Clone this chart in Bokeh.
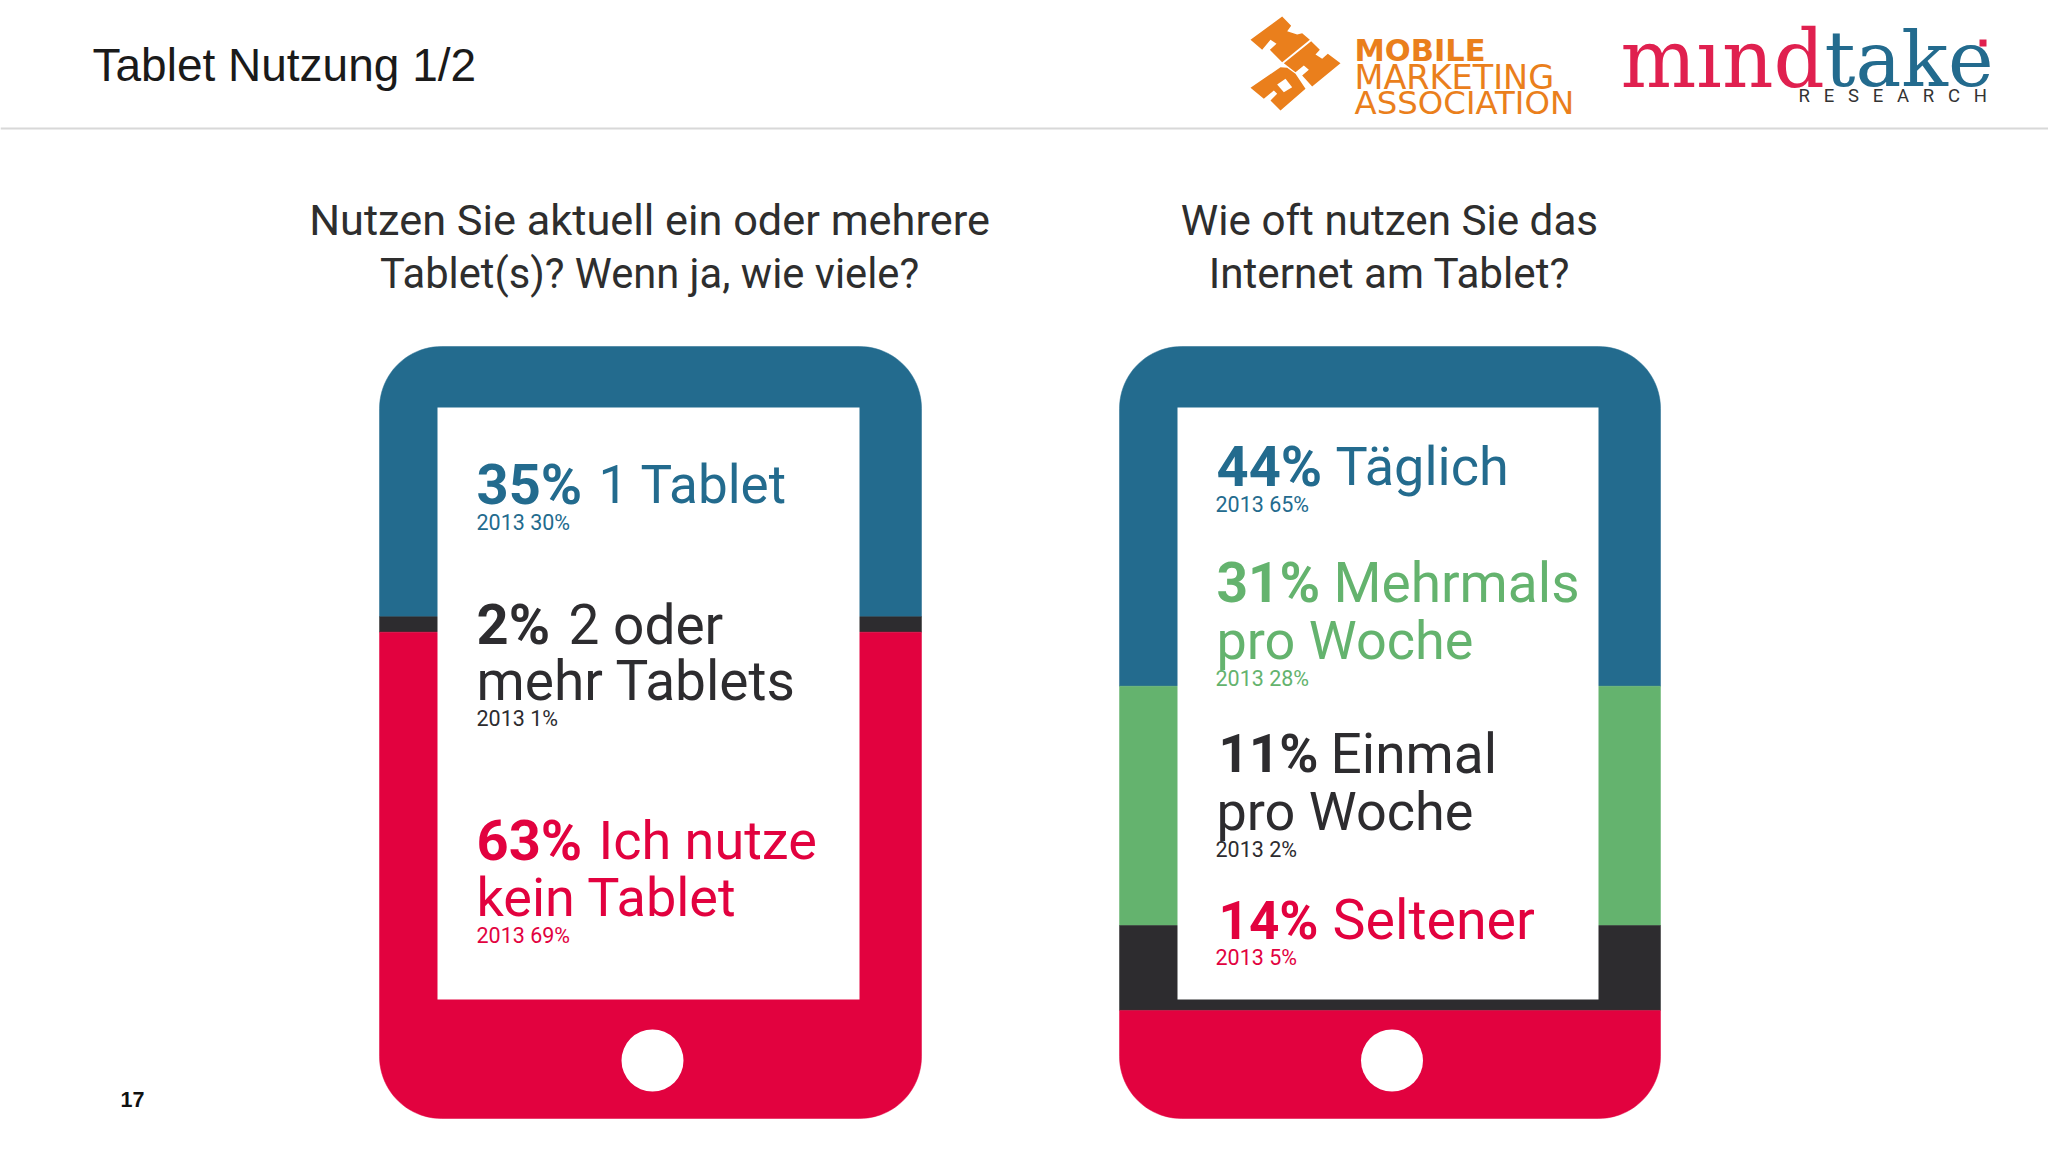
from bokeh.plotting import figure
from bokeh.models import Range1d
from bokeh.core.properties import value
from bokeh.embed import file_html
from bokeh.resources import INLINE
import numpy as np

left_labels = ["1 Tablet", "2 oder", "mehr Tablets", "Ich nutze", "kein Tablet"]
left_values = [35, 2, 63]
left_2013 = [30, 1, 69]
right_labels = ["Täglich", "Mehrmals", "pro Woche", "Einmal", "pro Woche", "Seltener"]
right_values = [44, 31, 11, 14]
right_2013 = [65, 28, 2, 5]

BLUE = "#236b8e"; DARK = "#2d2c2f"; RED = "#e2023f"; GREEN = "#64b36e"
left_colors = [BLUE, DARK, RED]
right_colors = [BLUE, GREEN, DARK, RED]

W, H = 2048, 1152
TOP, BOTTOM = 346, 1118
PX = (BOTTOM - TOP) / 100
p = figure(width=W, height=H, output_backend="svg", toolbar_location=None,
           x_range=Range1d(0, W),
           y_range=Range1d((H - TOP) / PX, -TOP / PX),
           min_border=0, outline_line_color=None, background_fill_color="white",
           border_fill_color="white")
p.extra_y_ranges = {"px": Range1d(H, 0)}
p.xaxis.visible = False
p.yaxis.visible = False
p.grid.visible = False

R = 62

def segment(x0, x1, s0, s1, first, last):
    """Outline of one stack segment between percentages s0 and s1."""
    r = R / PX
    t = np.linspace(0, np.pi / 2, 24)
    xs, ys = [], []
    if first:
        xs += list(x0 + R - R*np.cos(t)); ys += list(s0 + r - r*np.sin(t))
        xs += list(x1 - R + R*np.sin(t)); ys += list(s0 + r - r*np.cos(t))
    else:
        xs += [x0, x1]; ys += [s0, s0]
    if last:
        xs += list(x1 - R + R*np.cos(t)); ys += list(s1 - r + r*np.sin(t))
        xs += list(x0 + R - R*np.sin(t)); ys += list(s1 - r + r*np.cos(t))
    else:
        xs += [x1, x0]; ys += [s1, s1]
    return xs, ys

def tablet(x0, x1, values, colors):
    s = 0
    for i, (v, c) in enumerate(zip(values, colors)):
        xs, ys = segment(x0, x1, s, s + v, i == 0, i == len(values) - 1)
        p.patch(xs, ys, fill_color=c, line_color=c, line_width=0.5)
        s += v
    cx = (x0 + x1) / 2 + 2
    p.quad(left=[x0 + 58], right=[x1 - 62], top=[407], bottom=[999], y_range_name="px",
           fill_color="white", line_color=None)
    p.circle(x=[cx], y=[1060], radius=31, y_range_name="px", fill_color="white", line_color=None)

tablet(379, 921, left_values, left_colors)
tablet(1119, 1660, right_values, right_colors)

def T(x, y, s, size, color, bold=False, font="Roboto", align="left"):
    p.text(x=[x], y=[y], text=[s], y_range_name="px", text_font=value(font), text_font_size=f"{size}px",
           text_color=color, text_font_style="bold" if bold else "normal", text_align=align,
           text_baseline="middle")

# header
T(92, 64, "Tablet Nutzung 1/2", 46, "#1a1a1a", font="Liberation Sans")
p.line([0, W], [128, 128], y_range_name="px", line_color="#d8d8d8", line_width=2)
T(120, 1099, "17", 21.5, "#111111", bold=True, font="Liberation Sans")

# questions
Q = "#2e2e2e"
T(649, 220, "Nutzen Sie aktuell ein oder mehrere", 43.3, Q, align="center")
T(649, 273, "Tablet(s)? Wenn ja, wie viele?", 41.7, Q, align="center")
T(1389, 220, "Wie oft nutzen Sie das", 42.2, Q, align="center")
T(1389, 273, "Internet am Tablet?", 42.2, Q, align="center")

BIG, BOLD, SMALL = 55, 56, 21.5
# left tablet texts
lx = 476
T(lx, 484, f"{left_values[0]}%", BOLD, BLUE, True); T(598, 484, left_labels[0], 53, BLUE)
T(lx, 522, f"2013 {left_2013[0]}%", SMALL, BLUE)
T(lx, 624, f"{left_values[1]}%", BOLD, DARK, True); T(568, 624, left_labels[1], BIG, DARK)
T(lx, 680, left_labels[2], BIG, DARK)
T(lx, 718, f"2013 {left_2013[1]}%", SMALL, DARK)
T(lx, 840, f"{left_values[2]}%", BOLD, RED, True); T(598, 840, left_labels[3], 54, RED)
T(lx, 897, left_labels[4], 54, RED)
T(lx, 935, f"2013 {left_2013[2]}%", SMALL, RED)

# right tablet texts
rx = 1216
T(rx, 466, f"{right_values[0]}%", BOLD, BLUE, True); T(1335, 466, right_labels[0], 54, BLUE)
T(rx - 1, 504, f"2013 {right_2013[0]}%", SMALL, BLUE)
T(rx, 582, f"{right_values[1]}%", 55, GREEN, True); T(1333, 582, right_labels[1], BIG, GREEN)
T(rx, 640, right_labels[2], 54, GREEN)
T(rx - 1, 678, f"2013 {right_2013[1]}%", SMALL, GREEN)
T(rx + 2, 753, f"{right_values[2]}%", 53, DARK, True); T(1330, 753, right_labels[3], BIG, DARK)
T(rx, 811, right_labels[4], 54, DARK)
T(rx - 1, 849, f"2013 {right_2013[2]}%", SMALL, DARK)
T(rx + 2, 920, f"{right_values[3]}%", 53, RED, True); T(1332, 920, right_labels[5], 55.5, RED)
T(rx - 1, 957, f"2013 {right_2013[3]}%", SMALL, RED)

# MMA logo
ORANGE = "#ea7f1c"
lg = [
    [(30,88),(125,18),(152,46),(140,62),(170,72),(185,68),(208,88),(125,155),(88,118),(108,100),(90,88),(65,118)],
    [(130,158),(212,92),(238,118),(225,132),(245,145),(262,130),(300,158),(215,228),(185,195),(205,178),(190,165),(165,185)],
    [(30,232),(120,170),(140,172),(165,190),(195,235),(120,300),(90,270),(110,250),(100,240),(70,265)],
]
def lgx(a): return 1240 + a / 3
def lgy(b): return 10 + b / 3
for poly in lg:
    p.patch([lgx(a) for a, b in poly], [lgy(b) for a, b in poly], y_range_name="px",
            fill_color=ORANGE, line_color=None)
hole = [(110,222),(135,205),(155,230),(130,245)]
p.patch([lgx(a) for a, b in hole], [lgy(b) for a, b in hole], y_range_name="px",
        fill_color="white", line_color=None)
T(1354, 50, "MOBILE", 30.5, ORANGE, True, font="DejaVu Sans")
T(1354, 77, "MARKETING", 33.5, ORANGE, font="DejaVu Sans")
T(1354, 102, "ASSOCIATION", 32.4, ORANGE, font="DejaVu Sans")

# mindtake logo
T(1620, 59, "mınd", 80, "#e0204f", font="DejaVu Serif")
T(1824, 59, "take", 77, "#236b8e", font="DejaVu Serif")
p.quad(left=[1979], right=[1986], top=[39], bottom=[46], y_range_name="px", fill_color="#e0204f", line_color=None)
nb = "\u00a0\u00a0\u00a0"
T(1798, 95, nb.join("RESEARCH"), 18.5, "#333333")

open("out.html", "w").write(file_html(p, INLINE))
